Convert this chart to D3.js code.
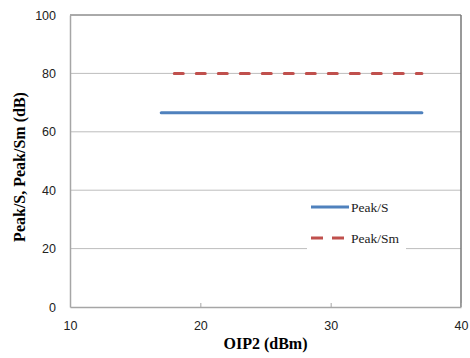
<!DOCTYPE html>
<html>
<head>
<meta charset="utf-8">
<script src="https://cdn.jsdelivr.net/npm/d3@7"></script>
<style>
  body { margin: 0; background: #fff; }
</style>
</head>
<body>
<div id="chart"></div>
<script>
// series values
const oipS = [17, 37];
const peakS = [66.5, 66.5];
const oipSm = [18, 37];
const peakSm = [80, 80];
const seriesNames = ["Peak/S", "Peak/Sm"];
const xTicks = [10, 20, 30, 40];
const yTicks = [0, 20, 40, 60, 80, 100];

const width = 470, height = 358;
const margin = {top: 15, right: 9, bottom: 51, left: 70};

const svg = d3.select('#chart').append("svg")
  .attr("width", width)
  .attr("height", height);

const x = d3.scaleLinear().domain([10, 40]).range([margin.left, width - margin.right]);
const y = d3.scaleLinear().domain([0, 100]).range([height - margin.bottom, margin.top]);

// gridlines
svg.append("g")
  .selectAll("line")
  .data(yTicks.filter(d => d > 0 && d < 100))
  .enter().append("line")
  .attr("x1", x(10)).attr("x2", x(40))
  .attr("y1", d => y(d)).attr("y2", d => y(d))
  .attr("stroke", "#bdbdbd")
  .attr("stroke-width", 1);

// frame: top and right borders darker
svg.append("line")
  .attr("x1", x(10)).attr("x2", x(40)).attr("y1", y(100)).attr("y2", y(100))
  .attr("stroke", "#555").attr("stroke-width", 1);
svg.append("line")
  .attr("x1", x(40)).attr("x2", x(40)).attr("y1", y(100)).attr("y2", y(0))
  .attr("stroke", "#777").attr("stroke-width", 1.5);

// y axis
const yAxis = svg.append("g")
  .attr("transform", `translate(${x(10)},0)`)
  .call(d3.axisLeft(y).tickValues(yTicks).tickSize(0).tickPadding(14));
yAxis.select(".domain").attr("stroke", "#a6a6a6").attr("stroke-width", 1.5);

// x axis with small inner ticks
const xAxis = svg.append("g")
  .attr("transform", `translate(0,${y(0)})`)
  .call(d3.axisBottom(x).tickValues(xTicks).tickSizeInner(-4).tickSizeOuter(0).tickPadding(14));
xAxis.select(".domain").attr("stroke", "#a6a6a6").attr("stroke-width", 1.5);
xAxis.selectAll(".tick line").attr("stroke", "#a6a6a6");

svg.selectAll(".tick text")
  .style("font-family", "'Liberation Sans', Arial, sans-serif")
  .style("font-size", "12.5px")
  .attr("fill", "#222");

// series lines
const line = d3.line().x(d => x(d[0])).y(d => y(d[1]));

svg.append("path")
  .datum(oipS.map((v, i) => [v, peakS[i]]))
  .attr("d", line)
  .attr("fill", "none")
  .attr("stroke", "#4f81bd")
  .attr("stroke-width", 3)
  .attr("stroke-linecap", "round");

svg.append("path")
  .datum(oipSm.map((v, i) => [v, peakSm[i]]))
  .attr("d", line)
  .attr("fill", "none")
  .attr("stroke", "#c0504d")
  .attr("stroke-width", 3)
  .attr("stroke-linecap", "round")
  .attr("stroke-dasharray", "9,13");

// legend
const legend = svg.append("g").attr("transform", "translate(307,193)");
legend.append("rect")
  .attr("width", 99).attr("height", 62)
  .attr("fill", "#fff");

const legendItems = [
  {name: seriesNames[0], color: "#4f81bd", dash: null},
  {name: seriesNames[1], color: "#c0504d", dash: "12,9"}
];
legendItems.forEach(function (e, i) {
  const g = legend.append("g").attr("transform", `translate(0,${14 + i * 31})`);
  g.append("line")
    .attr("x1", 4).attr("x2", 42)
    .attr("stroke", e.color)
    .attr("stroke-width", 3)
    .attr("stroke-dasharray", e.dash);
  g.append("text")
    .attr("x", 44).attr("y", 5)
    .style("font-family", "'Liberation Serif', 'Times New Roman', serif")
    .style("font-size", "13.5px")
    .attr("fill", "#222")
    .text(e.name);
});

// axis titles
svg.append("text")
  .attr("x", (x(10) + x(40)) / 2)
  .attr("y", 349)
  .attr("text-anchor", "middle")
  .style("font-family", "'Liberation Serif', 'Times New Roman', serif")
  .style("font-weight", "bold")
  .style("font-size", "16px")
  .text("OIP2 (dBm)");

svg.append("text")
  .attr("transform", `translate(25,${(y(0) + y(100)) / 2 + 6}) rotate(-90)`)
  .attr("text-anchor", "middle")
  .style("font-family", "'Liberation Serif', 'Times New Roman', serif")
  .style("font-weight", "bold")
  .style("font-size", "16px")
  .text("Peak/S, Peak/Sm (dB)");
</script>
</body>
</html>
